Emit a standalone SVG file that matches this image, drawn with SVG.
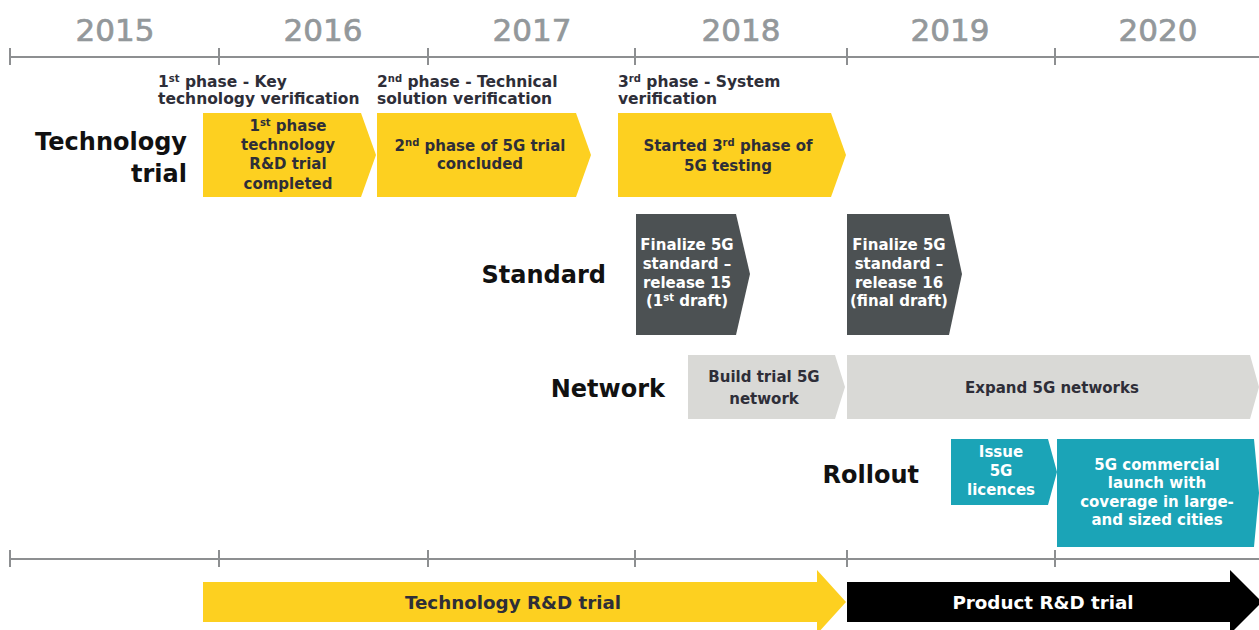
<svg xmlns="http://www.w3.org/2000/svg" width="1259" height="630" viewBox="0 0 1259 630">
<style>
.yr{font-family:"DejaVu Sans",sans-serif;font-size:31px;fill:#93989b;stroke:#93989b;stroke-width:0.7;text-anchor:middle}
.ph{font-family:"DejaVu Sans",sans-serif;font-weight:700;font-size:15.5px;fill:#2e2e38}
.row{font-family:"DejaVu Sans",sans-serif;font-weight:700;font-size:24px;fill:#111;text-anchor:end}
.bx{font-family:"DejaVu Sans",sans-serif;font-weight:700;font-size:15px;fill:#2e2e38;text-anchor:middle}
.wt{font-family:"DejaVu Sans",sans-serif;font-weight:700;font-size:15px;fill:#ffffff;text-anchor:middle}
.big{font-family:"DejaVu Sans",sans-serif;font-weight:700;font-size:18.3px;text-anchor:middle}
.sup{font-size:10px}
.axis{stroke:#8d8f91;stroke-width:2;fill:none}
.yel{fill:#fdd020}
.dg{fill:#4c5153}
.lg{fill:#d9d9d6}
.tl{fill:#1ba4b7}
</style>
<g id="axis-top" class="axis">
<line x1="10" y1="57" x2="1259" y2="57"/>
<line x1="10" y1="48" x2="10" y2="65"/>
<line x1="219" y1="48" x2="219" y2="65"/>
<line x1="428" y1="48" x2="428" y2="65"/>
<line x1="635" y1="48" x2="635" y2="65"/>
<line x1="847" y1="48" x2="847" y2="65"/>
<line x1="1055" y1="48" x2="1055" y2="65"/>
</g>
<g id="years">
<text class="yr" x="115" y="41">2015</text>
<text class="yr" x="323" y="41">2016</text>
<text class="yr" x="532" y="41">2017</text>
<text class="yr" x="741" y="41">2018</text>
<text class="yr" x="950" y="41">2019</text>
<text class="yr" x="1158" y="41">2020</text>
</g>
<g id="phase-labels">
<text class="ph" x="158" y="87">1<tspan class="sup" dy="-5">st</tspan><tspan dy="5"> phase - Key</tspan></text>
<text class="ph" x="158" y="104">technology verification</text>
<text class="ph" x="377" y="87">2<tspan class="sup" dy="-5">nd</tspan><tspan dy="5"> phase - Technical</tspan></text>
<text class="ph" x="377" y="104">solution verification</text>
<text class="ph" x="618" y="87">3<tspan class="sup" dy="-5">rd</tspan><tspan dy="5"> phase - System</tspan></text>
<text class="ph" x="618" y="104">verification</text>
</g>
<g id="row-labels">
<text class="row" x="187" y="150">Technology</text>
<text class="row" x="187" y="182">trial</text>
<text class="row" x="606" y="283">Standard</text>
<text class="row" x="665" y="397">Network</text>
<text class="row" x="919" y="483">Rollout</text>
</g>
<g id="tech1">
<polygon class="yel" points="203,113 361,113 376,155 361,197 203,197"/>
<text class="bx" x="288" y="131">1<tspan class="sup" dy="-5">st</tspan><tspan dy="5"> phase</tspan></text>
<text class="bx" x="288" y="150">technology</text>
<text class="bx" x="288" y="169">R&amp;D trial</text>
<text class="bx" x="288" y="189">completed</text>
</g>
<g id="tech2">
<polygon class="yel" points="377,113 576,113 591,155 576,197 377,197"/>
<text class="bx" x="480" y="151">2<tspan class="sup" dy="-5">nd</tspan><tspan dy="5"> phase of 5G trial</tspan></text>
<text class="bx" x="480" y="169">concluded</text>
</g>
<g id="tech3">
<polygon class="yel" points="618,113 831,113 846,155 831,197 618,197"/>
<text class="bx" x="728" y="151">Started 3<tspan class="sup" dy="-5">rd</tspan><tspan dy="5"> phase of</tspan></text>
<text class="bx" x="728" y="171">5G testing</text>
</g>
<g id="std1">
<polygon class="dg" points="636,214 736,214 750,274 736,335 636,335"/>
<text class="wt" x="687" y="250">Finalize 5G</text>
<text class="wt" x="687" y="269">standard –</text>
<text class="wt" x="687" y="288">release 15</text>
<text class="wt" x="687" y="306">(1<tspan class="sup" dy="-5">st</tspan><tspan dy="5"> draft)</tspan></text>
</g>
<g id="std2">
<polygon class="dg" points="847,214 949,214 962,274 949,335 847,335"/>
<text class="wt" x="899" y="250">Finalize 5G</text>
<text class="wt" x="899" y="269">standard –</text>
<text class="wt" x="899" y="288">release 16</text>
<text class="wt" x="899" y="306">(final draft)</text>
</g>
<g id="net1">
<polygon class="lg" points="688,355 835,355 845,387 835,419 688,419"/>
<text class="bx" x="764" y="382">Build trial 5G</text>
<text class="bx" x="764" y="404">network</text>
</g>
<g id="net2">
<polygon class="lg" points="847,355 1250,355 1259,387 1250,419 847,419"/>
<text class="bx" x="1052" y="393">Expand 5G networks</text>
</g>
<g id="roll1">
<polygon class="tl" points="951,439 1048,439 1057,472 1048,505 951,505"/>
<text class="wt" x="1001" y="457">Issue</text>
<text class="wt" x="1001" y="476">5G</text>
<text class="wt" x="1001" y="495">licences</text>
</g>
<g id="roll2">
<polygon class="tl" points="1057,439 1254,439 1259,493 1254,547 1057,547"/>
<text class="wt" x="1157" y="470">5G commercial</text>
<text class="wt" x="1157" y="488">launch with</text>
<text class="wt" x="1157" y="507">coverage in large-</text>
<text class="wt" x="1157" y="525">and sized cities</text>
</g>
<g id="axis-bottom" class="axis">
<line x1="10" y1="559" x2="1259" y2="559"/>
<line x1="10" y1="550" x2="10" y2="567"/>
<line x1="219" y1="550" x2="219" y2="567"/>
<line x1="428" y1="550" x2="428" y2="567"/>
<line x1="635" y1="550" x2="635" y2="567"/>
<line x1="847" y1="550" x2="847" y2="567"/>
<line x1="1055" y1="550" x2="1055" y2="567"/>
</g>
<g id="tech-rd">
<polygon class="yel" points="203,582 817,582 817,570 846,602 817,634 817,622 203,622"/>
<text class="big" x="513" y="609" fill="#2e2e38">Technology R&amp;D trial</text>
</g>
<g id="product-rd">
<polygon fill="#000" points="847,582 1230,582 1230,570 1262,602 1230,634 1230,622 847,622"/>
<text class="big" x="1043" y="609" fill="#ffffff">Product R&amp;D trial</text>
</g>
</svg>
